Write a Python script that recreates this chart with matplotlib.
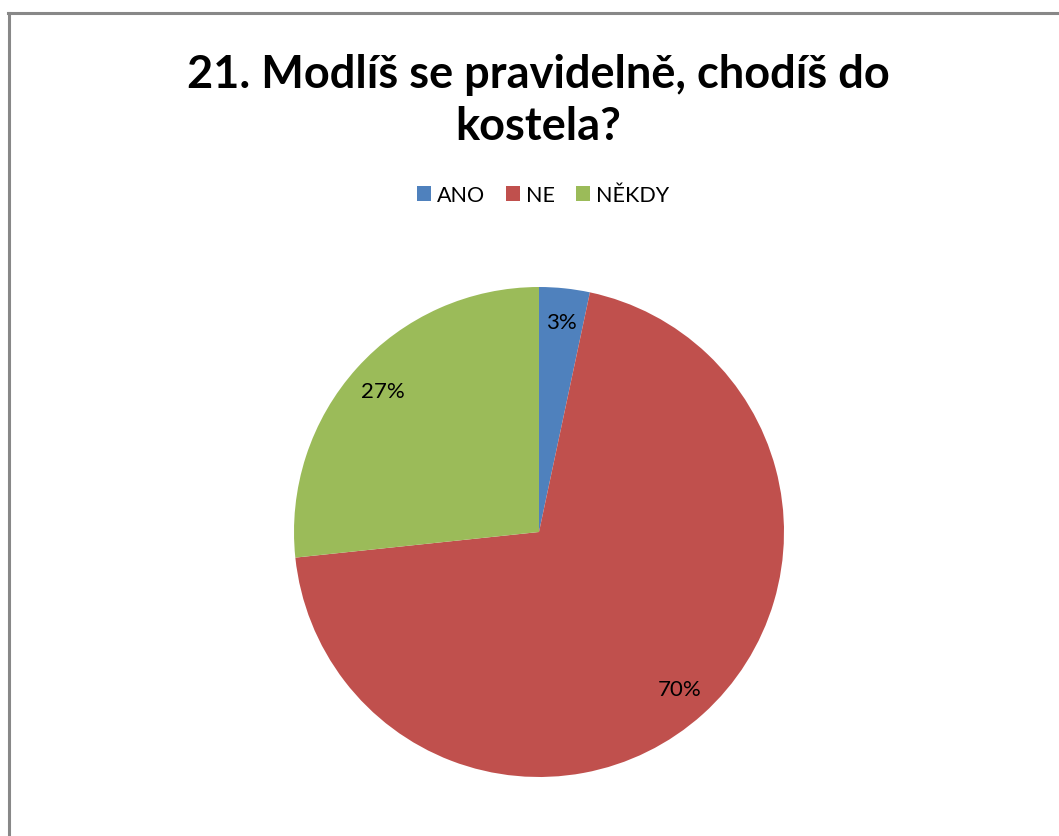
import matplotlib
matplotlib.use("Agg")
import matplotlib.pyplot as plt
from matplotlib.patches import Patch
from matplotlib.lines import Line2D

title = "21. Modlíš se pravidelně, chodíš do\nkostela?"
categories = ["ANO", "NE", "NĚKDY"]
values = [1, 21, 8]
colors = ["#4F81BD", "#C0504D", "#9BBB59"]

plt.rcParams['font.family'] = ['Lato', 'DejaVu Sans']

W, H = 1059, 837
fig = plt.figure(figsize=(W / 100, H / 100), dpi=100)
fig.patch.set_facecolor("white")

# frame lines (left and top)
fig.add_artist(Line2D([8.5 / W, 8.5 / W], [0, 1 - 14 / H], color="#888888", lw=2.2, transform=fig.transFigure))
fig.add_artist(Line2D([8 / W, 1], [1 - 14 / H, 1 - 14 / H], color="#888888", lw=2.2, transform=fig.transFigure))

cx, cy, r = 539, 533, 245
ax = fig.add_axes([(cx - r) / W, (H - cy - r) / H, 2 * r / W, 2 * r / H])
wedges, texts, autotexts = ax.pie(values, colors=colors, startangle=90, counterclock=False,
                                  autopct=lambda p: f"{p:.0f}%", pctdistance=0.86,
                                  wedgeprops=dict(linewidth=0),
                                  textprops=dict(fontsize=16, color="black"))
ax.set_xlim(-1, 1)
ax.set_ylim(-1, 1)
ax.set_aspect("auto")
ax.axis("off")

fig.text(538 / W, 1 - 101 / H, title, ha="center", va="center", fontsize=32.5, fontweight="bold",
         linespacing=1.3)

handles = [Patch(facecolor=c, edgecolor="none") for c in colors]
fig.legend(handles, categories, loc="center", bbox_to_anchor=(543 / W, 1 - 196 / H), ncol=3,
           frameon=False, fontsize=15.5, handlelength=0.65, handleheight=0.65, handletextpad=0.3,
           columnspacing=0.95)

fig.savefig("out.png", dpi=100, facecolor="white")
